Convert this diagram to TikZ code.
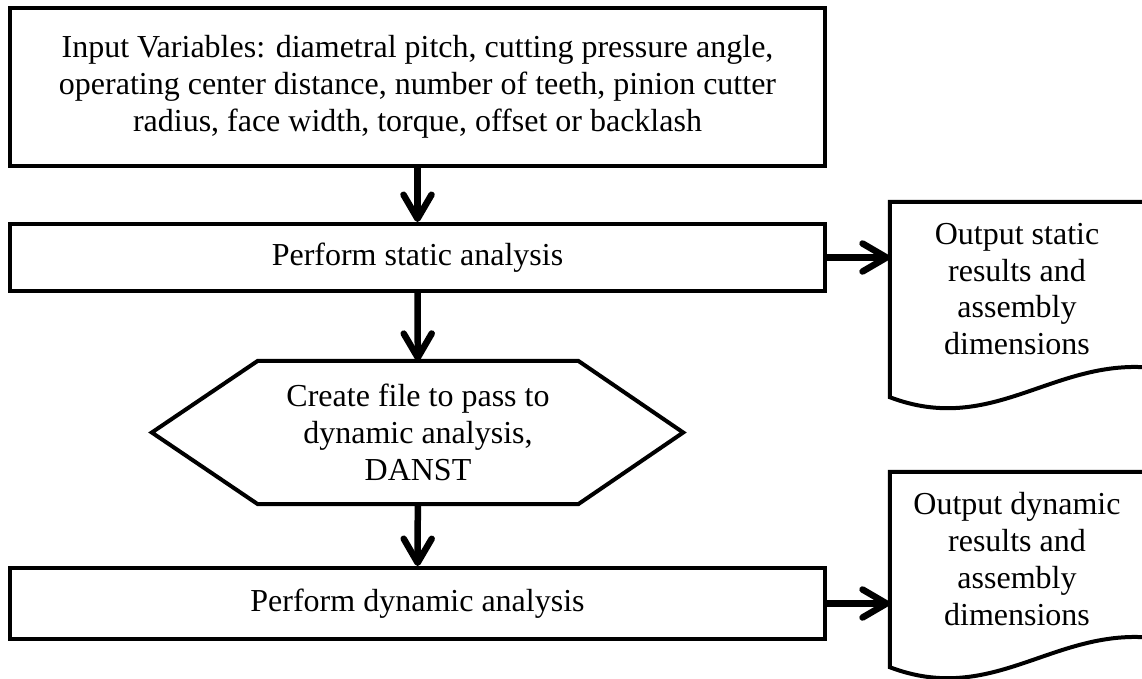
\documentclass[tikz,border=0pt]{standalone}
\usepackage{fontspec}
\setmainfont{Liberation Serif}
\usetikzlibrary{arrows.meta,calc}
\newcommand\mainfs{\fontsize{32pt}{36.8pt}\selectfont}
\begin{document}
\begin{tikzpicture}[x=1pt,y=-1pt,
  boxline/.style={line width=4pt, line join=miter},
  proc/.style={draw, boxline, minimum width=815pt, inner sep=0pt, align=center, font=\mainfs},
  hexnode/.style={minimum width=320pt, minimum height=143pt, inner sep=0pt, align=center, font=\mainfs},
  docnode/.style={minimum width=254pt, minimum height=174pt, inner sep=0pt, align=center, font=\mainfs},
  flow/.style={line width=6.5pt, -{Straight Barb[length=24pt,width=28pt,round]}}]
\useasboundingbox (0,0) rectangle (1142,678);
\clip (0,0) rectangle (1142,678);
\node[proc, minimum height=158pt] (inp) at (417.5,87) {Input Variables: diametral pitch, cutting pressure angle,\\operating center distance, number of teeth, pinion cutter\\radius, face width, torque, offset or backlash};
\node[proc, minimum height=67pt] (stat) at (417.5,257.5) {Perform static analysis};
\node[hexnode] (hex) at (418,432.5) {Create file to pass to\\dynamic analysis,\\DANST};
\draw[boxline] (hex.north west) -- (hex.north east) -- ([xshift=105pt]hex.east) -- (hex.south east) -- (hex.south west) -- ([xshift=-106pt]hex.west) -- cycle;
\node[proc, minimum height=71pt] (dyn) at (417.5,603.5) {Perform dynamic analysis};
\node[docnode] (doc1) at (1017,289) {Output static\\results and\\assembly\\dimensions};
\node[docnode] (doc2) at (1017,559) {Output dynamic\\results and\\assembly\\dimensions};
\foreach \d in {doc1,doc2}{
  \draw[boxline] (\d.north east) -- (\d.north west) -- ($(\d.south west)+(0,21)$)
    .. controls ($(\d.south west)+(100,59)$) and ($(\d.south west)+(160,-14)$) .. ($(\d.south east)+(0,-9)$) -- cycle;
}
\draw[flow] (inp) -- (stat);
\draw[flow] (stat) -- (hex);
\draw[flow] (hex) -- (dyn);
\draw[flow] (stat.east) -- (stat.east -| doc1.west);
\draw[flow] (dyn.east) -- (dyn.east -| doc2.west);
\end{tikzpicture}
\end{document}
